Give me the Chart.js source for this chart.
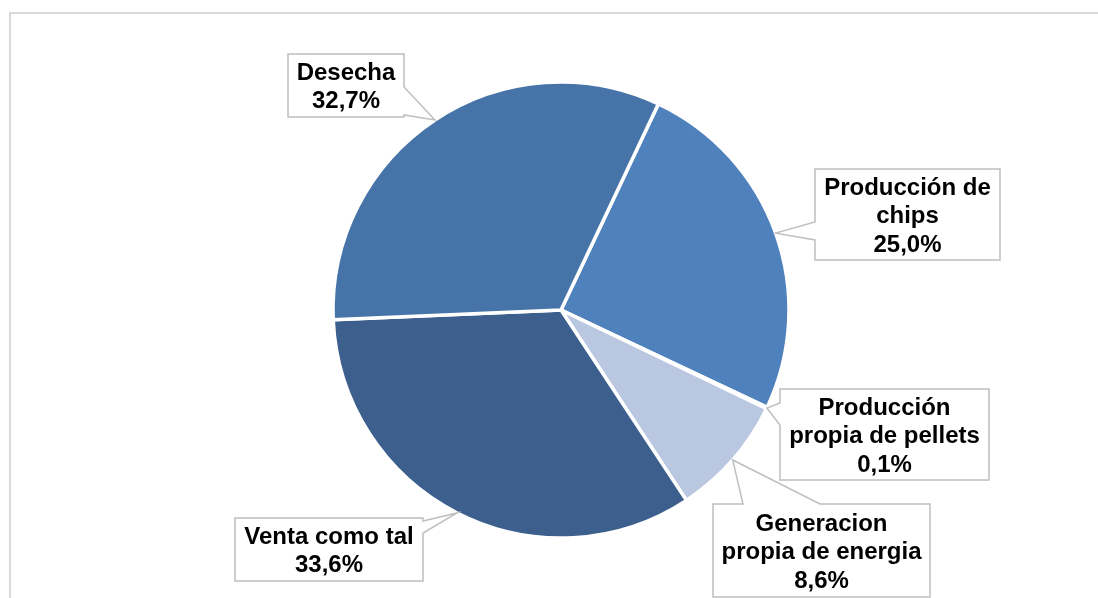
<!DOCTYPE html>
<html><head><meta charset="utf-8">
<script src="https://cdn.jsdelivr.net/npm/chart.js@4/dist/chart.umd.min.js"></script>
<style>html,body{margin:0;padding:0;background:#fff}#wrap{width:1098px;height:598px;position:relative}</style>
</head><body><div id="wrap"><canvas id="c" width="1098" height="598"></canvas></div>
<script>
// Data
const categories = ["Producción de chips", "Producción propia de pellets", "Generacion propia de energia", "Venta como tal", "Desecha"];
const values = [25.0, 0.1, 8.6, 33.6, 32.7];
const valueLabels = ["25,0%", "0,1%", "8,6%", "33,6%", "32,7%"];
const labelLines = [["Producción de", "chips"], ["Producción", "propia de pellets"], ["Generacion", "propia de energia"], ["Venta como tal"], ["Desecha"]];
const colors = ["#4F81BD", "#7F9FCF", "#B9C7E1", "#3C5F8E", "#4674A8"];

// Callout box layout
const boxes = [
  {x: 815, y: 169, w: 185, h: 91, side: 'left', a: 222, b: 240},
  {x: 780, y: 389, w: 209, h: 91, side: 'left', a: 403, b: 425},
  {x: 713, y: 504, w: 217, h: 93, side: 'top', a: 743, b: 820},
  {x: 235, y: 518, w: 188, h: 63, side: 'right', a: 521, b: 533},
  {x: 288, y: 54, w: 116, h: 63, side: 'right', a: 87, b: 115}
];

const frame = {
  id: 'frame',
  beforeDraw(chart) {
    const ctx = chart.ctx;
    ctx.save();
    ctx.strokeStyle = '#D9D9D9';
    ctx.lineWidth = 2;
    ctx.strokeRect(10, 13, 1200, 700);
    ctx.restore();
  }
};

const callouts = {
  id: 'callouts',
  afterDatasetsDraw(chart) {
    const ctx = chart.ctx;
    const meta = chart.getDatasetMeta(0);
    meta.data.forEach((arc, i) => {
      const p = arc.getProps(['x', 'y', 'startAngle', 'endAngle', 'outerRadius'], true);
      const mid = (p.startAngle + p.endAngle) / 2;
      const tx = p.x + Math.cos(mid) * p.outerRadius;
      const ty = p.y + Math.sin(mid) * p.outerRadius;
      const bx = boxes[i];
      const {x, y, w, h} = bx;
      ctx.save();
      ctx.beginPath();
      ctx.moveTo(x, y);
      if (bx.side === 'top') { ctx.lineTo(bx.a, y); ctx.lineTo(tx, ty); ctx.lineTo(bx.b, y); }
      ctx.lineTo(x + w, y);
      if (bx.side === 'right') { ctx.lineTo(x + w, bx.a); ctx.lineTo(tx, ty); ctx.lineTo(x + w, bx.b); }
      ctx.lineTo(x + w, y + h);
      ctx.lineTo(x, y + h);
      if (bx.side === 'left') { ctx.lineTo(x, bx.b); ctx.lineTo(tx, ty); ctx.lineTo(x, bx.a); }
      ctx.closePath();
      ctx.fillStyle = '#FFFFFF';
      ctx.fill();
      ctx.strokeStyle = '#BFBFBF';
      ctx.lineWidth = 1.5;
      ctx.stroke();
      const lines = labelLines[i].concat([valueLabels[i]]);
      ctx.fillStyle = '#000000';
      ctx.font = 'bold 24px "Liberation Sans", Arial, sans-serif';
      ctx.textAlign = 'center';
      ctx.textBaseline = 'middle';
      const lh = 28.5;
      const cy = y + h / 2 + 2;
      lines.forEach((t, k) => {
        ctx.fillText(t, x + w / 2, cy + (k - (lines.length - 1) / 2) * lh);
      });
      ctx.restore();
    });
  }
};

new Chart(document.getElementById('c'), {
  type: 'pie',
  data: {
    labels: categories,
    datasets: [{
      data: values,
      backgroundColor: colors,
      borderColor: '#FFFFFF',
      borderWidth: 3.5,
      radius: 228,
      rotation: 25.3
    }]
  },
  options: {
    responsive: false,
    animation: false,
    layout: {padding: {left: 24, top: 22, right: 0, bottom: 0}},
    plugins: {legend: {display: false}, tooltip: {enabled: false}}
  },
  plugins: [frame, callouts]
});
</script>
</body></html>
